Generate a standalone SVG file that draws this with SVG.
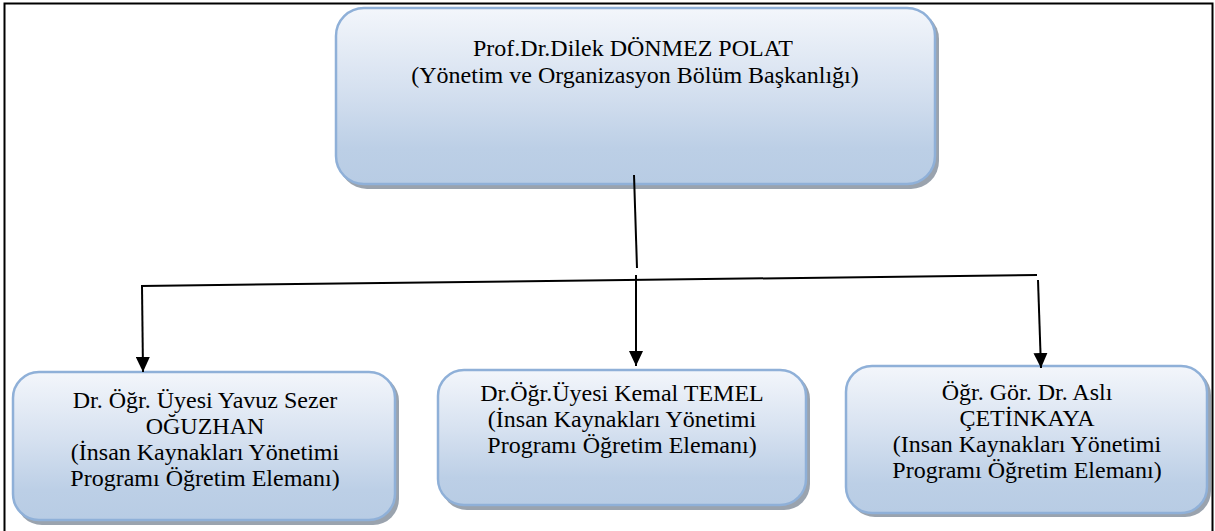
<svg xmlns="http://www.w3.org/2000/svg" width="1215" height="531" viewBox="0 0 1215 531">
  <defs>
    <linearGradient id="g" x1="0" y1="0" x2="0" y2="1">
      <stop offset="0" stop-color="#f3f6fb"/>
      <stop offset="0.45" stop-color="#d6e1f0"/>
      <stop offset="0.8" stop-color="#bccfe6"/>
      <stop offset="1" stop-color="#b8cce4"/>
    </linearGradient>
    <marker id="arr" viewBox="0 0 15 14" refX="15" refY="7" markerWidth="15" markerHeight="14" markerUnits="userSpaceOnUse" orient="auto">
      <path d="M0,0 L15,7 L0,14 Z" fill="#000"/>
    </marker>
  </defs>
  <style>
    .shadow { fill: #9aa3ae; }
    .box { fill: url(#g); stroke: #8fb0d8; stroke-width: 2.5; }
    .t { font-family: "Liberation Serif", "DejaVu Serif", serif; font-size: 24px; fill: #000; text-anchor: middle; }
    .c { stroke: #000; stroke-width: 2; fill: none; }
  </style>
  <rect x="0" y="0" width="1215" height="531" fill="#fff"/>
  <rect x="4.5" y="3.5" width="1208" height="560" fill="none" stroke="#000" stroke-width="2"/>

  <g id="node-head" font-family="Liberation Serif, DejaVu Serif, serif">
    <rect class="shadow" x="339" y="11" width="600" height="178" rx="28"/>
    <rect class="box" x="336" y="8" width="599" height="176" rx="28"/>
    <text class="t" x="633" y="56">Prof.Dr.Dilek DÖNMEZ POLAT</text>
    <text class="t" x="635" y="83">(Yönetim ve Organizasyon Bölüm Başkanlığı)</text>
  </g>

  <g id="node-oguzhan" font-family="Liberation Serif, DejaVu Serif, serif">
    <rect class="shadow" x="16" y="375" width="383" height="150" rx="26"/>
    <rect class="box" x="13" y="372" width="382" height="148" rx="26"/>
    <text class="t" x="205" y="408">Dr. Öğr. Üyesi Yavuz Sezer</text>
    <text class="t" x="205" y="434">OĞUZHAN</text>
    <text class="t" x="205" y="460">(İnsan Kaynakları Yönetimi</text>
    <text class="t" x="205" y="486">Programı Öğretim Elemanı)</text>
  </g>

  <g id="node-temel" font-family="Liberation Serif, DejaVu Serif, serif">
    <rect class="shadow" x="441" y="373" width="369" height="137" rx="26"/>
    <rect class="box" x="438" y="370" width="368" height="135" rx="26"/>
    <text class="t" x="622" y="401">Dr.Öğr.Üyesi Kemal TEMEL</text>
    <text class="t" x="622" y="427">(İnsan Kaynakları Yönetimi</text>
    <text class="t" x="622" y="453">Programı Öğretim Elemanı)</text>
  </g>

  <g id="node-cetinkaya" font-family="Liberation Serif, DejaVu Serif, serif">
    <rect class="shadow" x="849" y="369" width="362" height="148" rx="26"/>
    <rect class="box" x="846" y="366" width="361" height="147" rx="26"/>
    <text class="t" x="1027" y="400">Öğr. Gör. Dr. Aslı</text>
    <text class="t" x="1027" y="426">ÇETİNKAYA</text>
    <text class="t" x="1027" y="452">(Insan Kaynakları Yönetimi</text>
    <text class="t" x="1027" y="478">Programı Öğretim Elemanı)</text>
  </g>

  <g id="connectors">
    <line class="c" x1="634" y1="175" x2="637" y2="268"/>
    <line class="c" x1="141" y1="286" x2="1037" y2="275"/>
    <line class="c" x1="636" y1="275" x2="636" y2="290"/>
    <line class="c" x1="142" y1="286" x2="143" y2="372" marker-end="url(#arr)"/>
    <line class="c" x1="636" y1="281" x2="636" y2="366" marker-end="url(#arr)"/>
    <line class="c" x1="1038" y1="280" x2="1041" y2="368" marker-end="url(#arr)"/>
  </g>
</svg>
